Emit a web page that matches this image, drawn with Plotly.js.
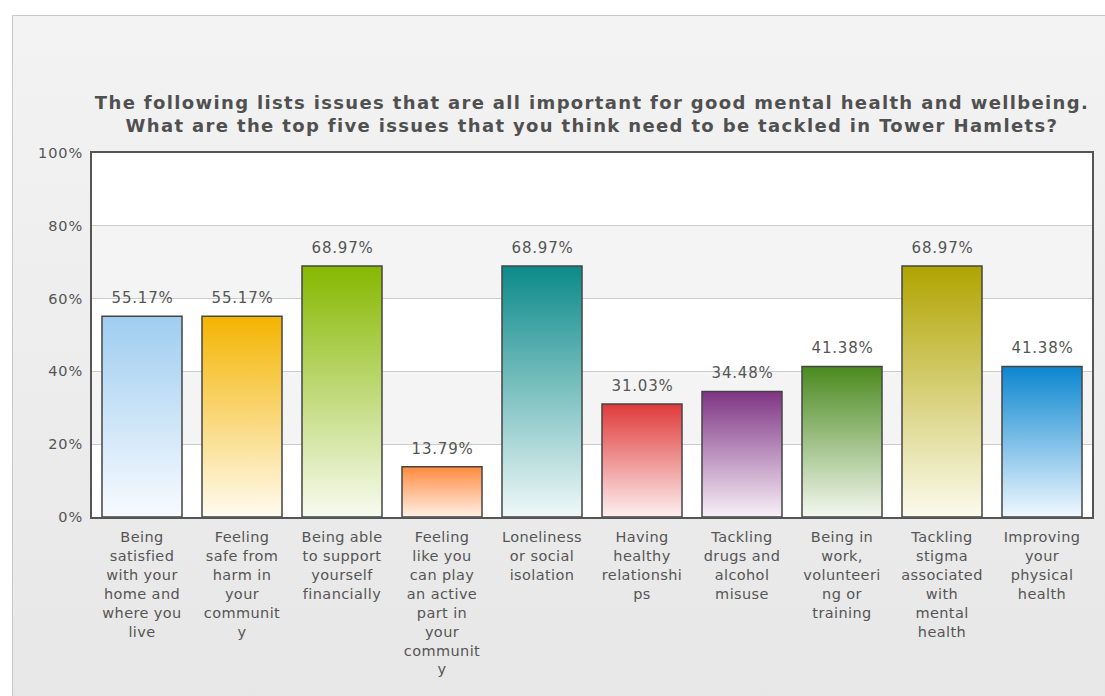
<!DOCTYPE html>
<html>
<head>
<meta charset="utf-8">
<script src="https://cdn.plot.ly/plotly-3.0.1.min.js"></script>
<style>
  html, body { margin: 0; padding: 0; background: #ffffff; }
  #bg { position: absolute; left: 12px; top: 15px; width: 1093px; height: 681px;
        border-left: 1px solid #c9c9c9; border-top: 1px solid #c9c9c9;
        background: linear-gradient(to bottom, #f3f3f3 0%, #e7e7e7 100%); box-sizing: border-box; }
  #chart { position: absolute; left: 0; top: 0; width: 1105px; height: 696px; }
  #chart .gtitle { letter-spacing: 1.35px; }
  #chart .ytick text { letter-spacing: 0.9px; }
  #chart .xtick text { letter-spacing: 0.4px; }
  #chart .annotation-text { letter-spacing: 0.8px; }
</style>
</head>
<body>
<div id="bg"></div>
<div id="chart"></div>
<script>
// ---- data ----
const categories = [
  "Being<br>satisfied<br>with your<br>home and<br>where you<br>live",
  "Feeling<br>safe from<br>harm in<br>your<br>communit<br>y",
  "Being able<br>to support<br>yourself<br>financially",
  "Feeling<br>like you<br>can play<br>an active<br>part in<br>your<br>communit<br>y",
  "Loneliness<br>or social<br>isolation",
  "Having<br>healthy<br>relationshi<br>ps",
  "Tackling<br>drugs and<br>alcohol<br>misuse",
  "Being in<br>work,<br>volunteeri<br>ng or<br>training",
  "Tackling<br>stigma<br>associated<br>with<br>mental<br>health",
  "Improving<br>your<br>physical<br>health"
];
const values = [55.17, 55.17, 68.97, 13.79, 68.97, 31.03, 34.48, 41.38, 68.97, 41.38];
const topColors = ["#9fcdf0", "#f4b400", "#86b800", "#ff8a3d", "#0c8a8a", "#e03a3a", "#7f3585", "#4a8a1e", "#b0a400", "#0b86d0"];
const bottomColors = ["#f8fbff", "#fffbf0", "#f8fbf0", "#fff0e6", "#f0f8f8", "#fdf0f0", "#f8f0f8", "#f4f8f0", "#fcfbee", "#f0f8ff"];
const yTickVals = [0, 20, 40, 60, 80, 100];
const yTickText = ["0%", "20%", "40%", "60%", "80%", "100%"];
const titleText = "The following lists issues that are all important for good mental health and wellbeing.<br>What are the top five issues that you think need to be tackled in Tower Hamlets?";

const FONT = "DejaVu Sans, Verdana, sans-serif";

function mix(a, b, t) {
  const pa = [1,3,5].map(i => parseInt(a.substr(i,2),16));
  const pb = [1,3,5].map(i => parseInt(b.substr(i,2),16));
  return "rgb(" + pa.map((v,i) => Math.round(v + (pb[i]-v)*t)).join(",") + ")";
}
const midColors = topColors.map((c, i) => mix(c, bottomColors[i], 0.45));

const trace = {
  type: "bar",
  x: categories,
  y: values,
  width: 0.8,
  marker: { color: midColors, line: { color: "#444444", width: 1.5 } },
  hoverinfo: "x+y"
};

const valueLabels = values.map((v, i) => ({
  x: categories[i], y: v, xref: "x", yref: "y",
  text: v.toFixed(2) + "%", showarrow: false,
  yanchor: "bottom", yshift: 7,
  font: { family: FONT, size: 15, color: "#555555" }
}));

const bandShapes = [[20, 40], [60, 80]].map(b => ({
  type: "rect", xref: "paper", yref: "y", x0: 0, x1: 1, y0: b[0], y1: b[1],
  fillcolor: "#f4f4f4", line: { width: 0 }, layer: "below"
}));

const layout = {
  width: 1105, height: 696,
  margin: { l: 92, r: 13, t: 153, b: 179, pad: 0 },
  paper_bgcolor: "rgba(0,0,0,0)",
  plot_bgcolor: "#ffffff",
  showlegend: false,
  bargap: 0.2,
  title: {
    text: "<b>" + titleText + "</b>",
    font: { family: FONT, size: 18, color: "#505050" },
    x: 0.5, xref: "paper", xanchor: "center",
    y: 1 - 109 / 696, yref: "container", yanchor: "top"
  },
  xaxis: {
    type: "category",
    showgrid: false,
    showline: true, linecolor: "#555555", linewidth: 2, mirror: true,
    ticks: "", ticklabelstandoff: 6,
    tickfont: { family: FONT, size: 14.5, color: "#555555" },
    tickangle: 0,
    fixedrange: true
  },
  yaxis: {
    range: [0, 100],
    tickvals: yTickVals, ticktext: yTickText,
    showgrid: true, gridcolor: "#cccccc", gridwidth: 1,
    showline: true, linecolor: "#555555", linewidth: 2, mirror: true,
    ticks: "", ticklabelstandoff: 4,
    tickfont: { family: FONT, size: 14.5, color: "#555555" },
    zeroline: false,
    fixedrange: true
  },
  shapes: bandShapes,
  annotations: valueLabels
};

Plotly.newPlot("chart", [trace], layout, { displayModeBar: false, staticPlot: true }).then(gd => {
  // apply vertical gradients to the bars that Plotly drew
  const svg = gd.querySelector(".main-svg");
  const ns = "http://www.w3.org/2000/svg";
  let defs = svg.querySelector("defs");
  if (!defs) { defs = document.createElementNS(ns, "defs"); svg.insertBefore(defs, svg.firstChild); }
  topColors.forEach((c, i) => {
    const g = document.createElementNS(ns, "linearGradient");
    g.setAttribute("id", "barGrad" + i);
    g.setAttribute("x1", "0"); g.setAttribute("y1", "0");
    g.setAttribute("x2", "0"); g.setAttribute("y2", "1");
    const s1 = document.createElementNS(ns, "stop");
    s1.setAttribute("offset", "0"); s1.setAttribute("stop-color", c);
    const s2 = document.createElementNS(ns, "stop");
    s2.setAttribute("offset", "1"); s2.setAttribute("stop-color", bottomColors[i]);
    g.appendChild(s1); g.appendChild(s2);
    defs.appendChild(g);
  });
  gd.querySelectorAll(".barlayer .point path").forEach((p, i) => {
    p.style.fill = "url(#barGrad" + i + ")";
  });
});
</script>
</body>
</html>
